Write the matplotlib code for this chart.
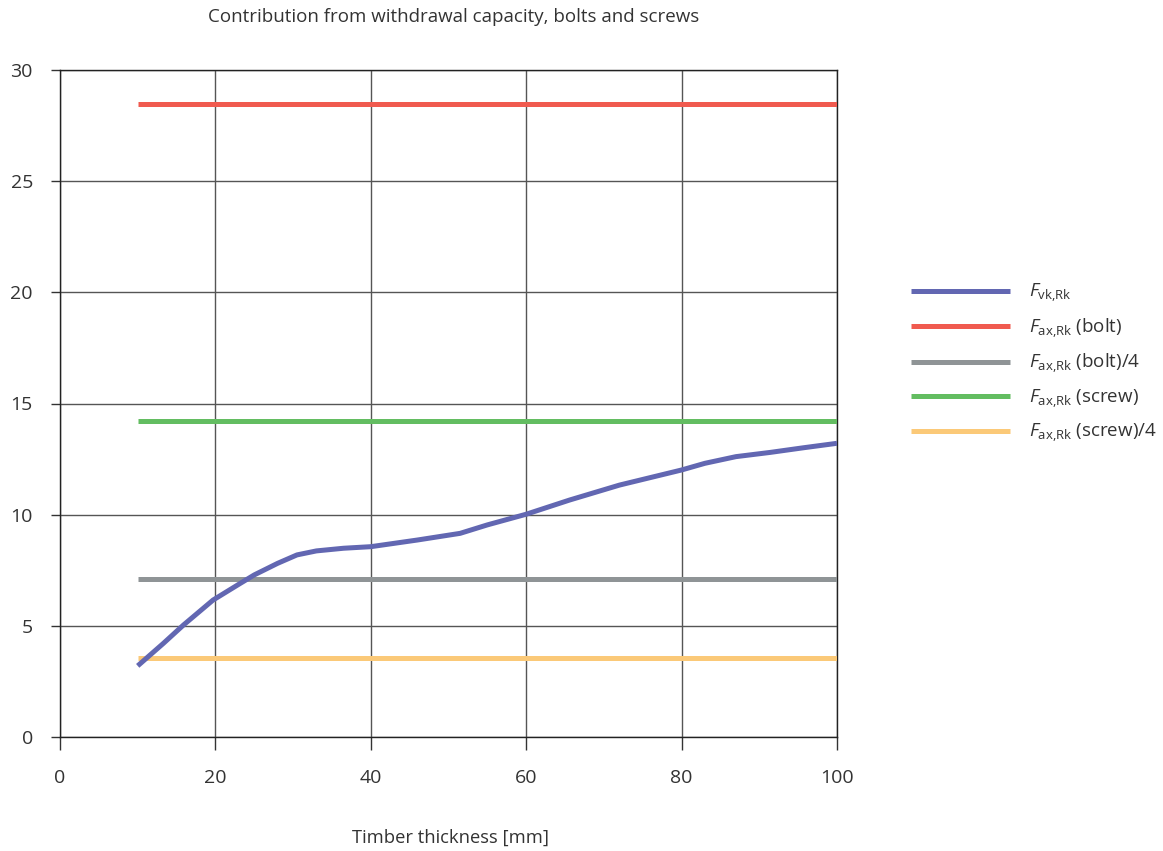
import matplotlib
matplotlib.use("Agg")
import matplotlib.pyplot as plt
import numpy as np

plt.rcParams['font.family'] = ['Open Sans', 'DejaVu Sans']
plt.rcParams['mathtext.fontset'] = 'custom'
plt.rcParams['mathtext.rm'] = 'Open Sans'
plt.rcParams['mathtext.it'] = 'Open Sans:italic'

# Data
thickness = [10, 13.3, 15.9, 19.7, 23.2, 25, 28, 30.5, 33, 36.5, 40, 46, 51.5, 55, 60,
             65.6, 72, 80, 83, 87, 91.4, 95.7, 100]
f_vk = [3.2, 4.21, 5.04, 6.16, 6.91, 7.29, 7.81, 8.19, 8.37, 8.49, 8.56, 8.86, 9.16, 9.54, 10.02,
        10.66, 11.33, 12.01, 12.31, 12.61, 12.8, 13.01, 13.21]
x_range = [10, 100]
f_ax_bolt = 28.45
f_ax_bolt4 = 7.1
f_ax_screw = 14.2
f_ax_screw4 = 3.55

labels = [r'$F_{\mathrm{vk{,}Rk}}$', r'$F_{\mathrm{ax{,}Rk}}$ (bolt)', r'$F_{\mathrm{ax{,}Rk}}$ (bolt)/4',
          r'$F_{\mathrm{ax{,}Rk}}$ (screw)', r'$F_{\mathrm{ax{,}Rk}}$ (screw)/4']
colors = ['#6267b2', '#f05a4f', '#8f9496', '#63bd61', '#fbc978']
text_color = '#333333'

fig = plt.figure(figsize=(11.63, 8.51), dpi=100)
ax = fig.add_axes([60/1163, 1 - 737/851, (837-60)/1163, (737-70)/851])

lw = 3.6
kw = dict(lw=lw, solid_capstyle='butt', solid_joinstyle='round')
l1, = ax.plot(thickness, f_vk, color=colors[0], zorder=5, **kw)
l2, = ax.plot(x_range, [f_ax_bolt]*2, color=colors[1], zorder=4, **kw)
l3, = ax.plot(x_range, [f_ax_bolt4]*2, color=colors[2], zorder=4, **kw)
l4, = ax.plot(x_range, [f_ax_screw]*2, color=colors[3], zorder=4, **kw)
l5, = ax.plot(x_range, [f_ax_screw4]*2, color=colors[4], zorder=4, **kw)

ax.set_xlim(0, 100)
ax.set_ylim(0, 30)
ax.set_xticks(np.arange(0, 101, 20))
ax.set_yticks(np.arange(0, 31, 5))
ax.grid(True, color='#555555', lw=1.0)
ax.set_axisbelow(True)
for s in ax.spines.values():
    s.set_color('#222222')
    s.set_linewidth(1.0)
ax.tick_params(axis='y', length=6.5, width=1, color='#333333', pad=13, labelsize=14, labelcolor=text_color)
ax.tick_params(axis='x', length=9, width=1, color='#333333', pad=14, labelsize=14, labelcolor=text_color)

fig.text(450/1163, 1 - 838/851, 'Timber thickness [mm]',
         ha='center', va='center', fontsize=13.2, color=text_color)
fig.text(454/1163, 1 - 17/851, 'Contribution from withdrawal capacity, bolts and screws',
         ha='center', va='center', fontsize=13.5, color=text_color)

leg = fig.legend([l1, l2, l3, l4, l5], labels, loc='upper left',
                 bbox_to_anchor=(903/1163, 1 - 274/851), frameon=False,
                 fontsize=13.5, handlelength=5.3, handletextpad=1.0, labelspacing=0.64,
                 borderaxespad=0)
for t in leg.get_texts():
    t.set_color(text_color)

fig.savefig('out.png', dpi=100)
